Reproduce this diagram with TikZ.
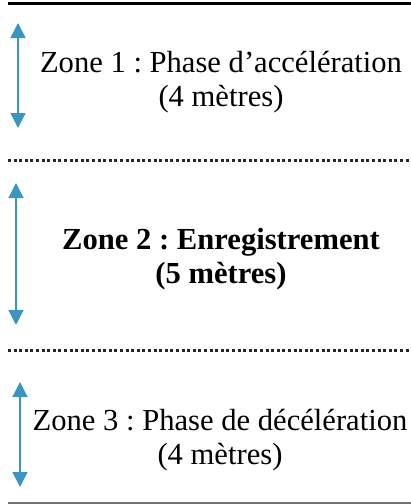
\documentclass[tikz,border=0pt]{standalone}
\usepackage{fontspec}
\setmainfont{Liberation Serif}
\usetikzlibrary{arrows.meta}
\definecolor{bleufleche}{RGB}{58,150,192}
\frenchspacing

\begin{document}
\begin{tikzpicture}[x=0.5pt, y=-0.5pt,
            zone/.style={align=center, font=\fontsize{15.3pt}{17pt}\selectfont},
            limite/.style={line width=1.5pt, black},
            pointille/.style={line width=1.5pt, dash pattern=on 1.5pt off 1.3pt, black!85},
            fin/.style={line width=0.8pt, black!55},
            % flèche double bleue pour la longueur de chaque zone
            fleche/.style={draw=bleufleche, line width=0.7pt, {Triangle[length=7.5pt,width=7.5pt]}-{Triangle[length=7.5pt,width=7.5pt]}}
        ]
            \useasboundingbox (0,0) rectangle (411,504);

            % --- limites ---
            \coordinate (l0a) at (8,3);   \coordinate (l0b) at (411,3);
            \coordinate (l1a) at (8,160); \coordinate (l1b) at (411,160);
            \coordinate (l2a) at (8,350); \coordinate (l2b) at (411,350);
            \coordinate (l3a) at (8,503); \coordinate (l3b) at (411,503);

            \draw[limite] (l0a) -- (l0b);
            \draw[pointille] (l1a) -- (l1b);
            \draw[pointille] (l2a) -- (l2b);
            \draw[fin] (l3a) -- (l3b);

            % --- zones ---
            \node[zone] (zone1) at (221,82) {Zone 1 : Phase d’accélération\\(4 mètres)};
            \node[zone, font=\fontsize{15.3pt}{17pt}\selectfont\bfseries] (zone2) at (221,259) {Zone 2 : Enregistrement\\(5 mètres)};
            \node[zone] (zone3) at (220,440) {Zone 3 : Phase de décélération\\(4 mètres)};

            % --- flèches ---
            \coordinate (f1a) at (18,23);  \coordinate (f1b) at (18,128);
            \coordinate (f2a) at (16,183); \coordinate (f2b) at (16,325);
            \coordinate (f3a) at (20,382); \coordinate (f3b) at (20,487);

            \draw[fleche] (f1a) -- (f1b);
            \draw[fleche] (f2a) -- (f2b);
            \draw[fleche] (f3a) -- (f3b);
        \end{tikzpicture}
\end{document}
